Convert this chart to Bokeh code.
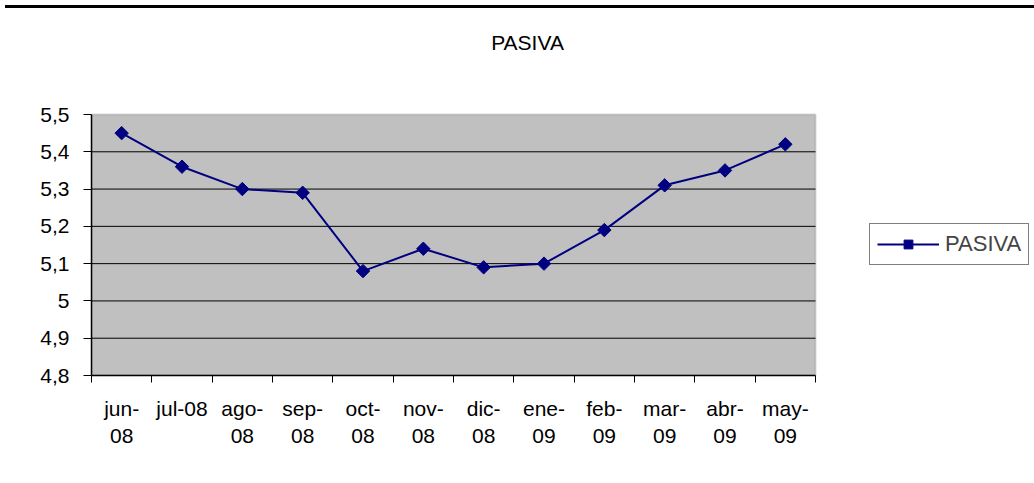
import math
from bokeh.plotting import figure
from bokeh.models import (Range1d, FixedTicker, CustomJSTickFormatter, Legend,
                          LegendItem, Div, Label, BoxAnnotation)
from bokeh.layouts import column
from bokeh.embed import file_html
from bokeh.resources import INLINE

months = ["jun-\n08", "jul-08", "ago-\n08", "sep-\n08", "oct-\n08", "nov-\n08",
          "dic-\n08", "ene-\n09", "feb-\n09", "mar-\n09", "abr-\n09", "may-\n09"]
pasiva = [5.45, 5.36, 5.30, 5.29, 5.08, 5.14, 5.09, 5.10, 5.19, 5.31, 5.35, 5.42]
y_ticks = [4.8, 4.9, 5.0, 5.1, 5.2, 5.3, 5.4, 5.5]
title_text = "PASIVA"
series_name = "PASIVA"

FONT = "Liberation Sans"
NAVY = "#000080"

n = len(months)
xs = [i + 0.5 for i in range(n)]

# layout (pixels)
FIG_W, FIG_H = 1030, 462
LEFT, BOTTOM, TOP = 91, 100, 4
PLOT_W, PLOT_H = 724, 261              # visible plotting area
FRAME_W = FIG_W - LEFT
FRAME_H = FIG_H - BOTTOM - TOP
y0, y1 = y_ticks[0], y_ticks[-1]
x_end = n * FRAME_W / PLOT_W
y_end = y0 + (y1 - y0) * FRAME_H / PLOT_H

p = figure(width=FIG_W, height=FIG_H, output_backend="svg", toolbar_location=None,
           x_range=Range1d(0, x_end), y_range=Range1d(y0, y_end),
           min_border_left=LEFT, min_border_right=0, min_border_top=TOP,
           min_border_bottom=BOTTOM)
p.background_fill_color = "white"
p.border_fill_color = "white"
p.outline_line_color = None

area = BoxAnnotation(left=0, right=n, bottom=y0, top=y1, fill_color="#C0C0C0",
                     fill_alpha=1, line_color="#808080", line_width=2, level="underlay")
p.add_layout(area)

# y axis
p.yaxis.ticker = FixedTicker(ticks=y_ticks)
p.yaxis.bounds = (y0, y1)
p.yaxis.formatter = CustomJSTickFormatter(
    code="var s = tick.toFixed(1).replace('.', ','); if (s.endsWith(',0')) { s = s.slice(0, -2); } return s;")
p.yaxis.axis_line_color = "black"
p.yaxis.axis_line_width = 1.5
p.yaxis.major_tick_line_color = "black"
p.yaxis.major_tick_out = 8
p.yaxis.major_tick_in = 0
p.yaxis.minor_tick_line_color = None
p.yaxis.major_label_text_font = FONT
p.yaxis.major_label_text_font_size = "21px"
p.yaxis.major_label_text_color = "black"
p.yaxis.major_label_standoff = 14

# x axis
p.xaxis.ticker = FixedTicker(ticks=xs, minor_ticks=list(range(n + 1)))
p.xaxis.bounds = (0, n)
p.xaxis.formatter = CustomJSTickFormatter(args=dict(labels=months),
                                          code="return labels[Math.floor(tick)];")
p.xaxis.axis_line_color = "black"
p.xaxis.axis_line_width = 1.5
p.xaxis.major_tick_line_color = None
p.xaxis.major_tick_out = 0
p.xaxis.major_tick_in = 0
p.xaxis.minor_tick_line_color = "black"
p.xaxis.minor_tick_out = 7
p.xaxis.minor_tick_in = 0
p.xaxis.major_label_text_font = FONT
p.xaxis.major_label_text_font_size = "21px"
p.xaxis.major_label_text_color = "black"
p.xaxis.major_label_standoff = 14
p.xaxis.major_label_text_line_height = 1.2

p.xgrid.visible = False
p.ygrid.visible = False

# horizontal grid lines limited to the plotting area
grid_vals = y_ticks[1:-1]
p.segment(x0=[0] * len(grid_vals), x1=[n] * len(grid_vals), y0=grid_vals, y1=grid_vals,
          line_color="black", line_width=1)

line = p.line(xs, pasiva, line_color=NAVY, line_width=2)
pts = p.scatter(xs, pasiva, marker="square", size=9.5, angle=math.pi / 4,
                fill_color=NAVY, line_color=NAVY)

title = Label(x=7.227, y=5.693, text=title_text, text_font=FONT, text_font_size="21px",
              text_align="center", text_baseline="middle", text_color="black")
p.add_layout(title)

legend = Legend(items=[LegendItem(label=series_name, renderers=[line, pts])],
                location=(778, 110), orientation="vertical",
                label_text_font=FONT, label_text_font_size="22px",
                border_line_color="black", border_line_width=1,
                background_fill_color="white", background_fill_alpha=1,
                padding=7, margin=0, spacing=0, glyph_width=62, glyph_height=22,
                label_standoff=6, label_height=22)
p.add_layout(legend, "center")

topline = Div(width=FIG_W, height=3, styles={"background-color": "black"})

layout = column(topline, p, spacing=0)
open("out.html", "w").write(file_html(layout, INLINE))
